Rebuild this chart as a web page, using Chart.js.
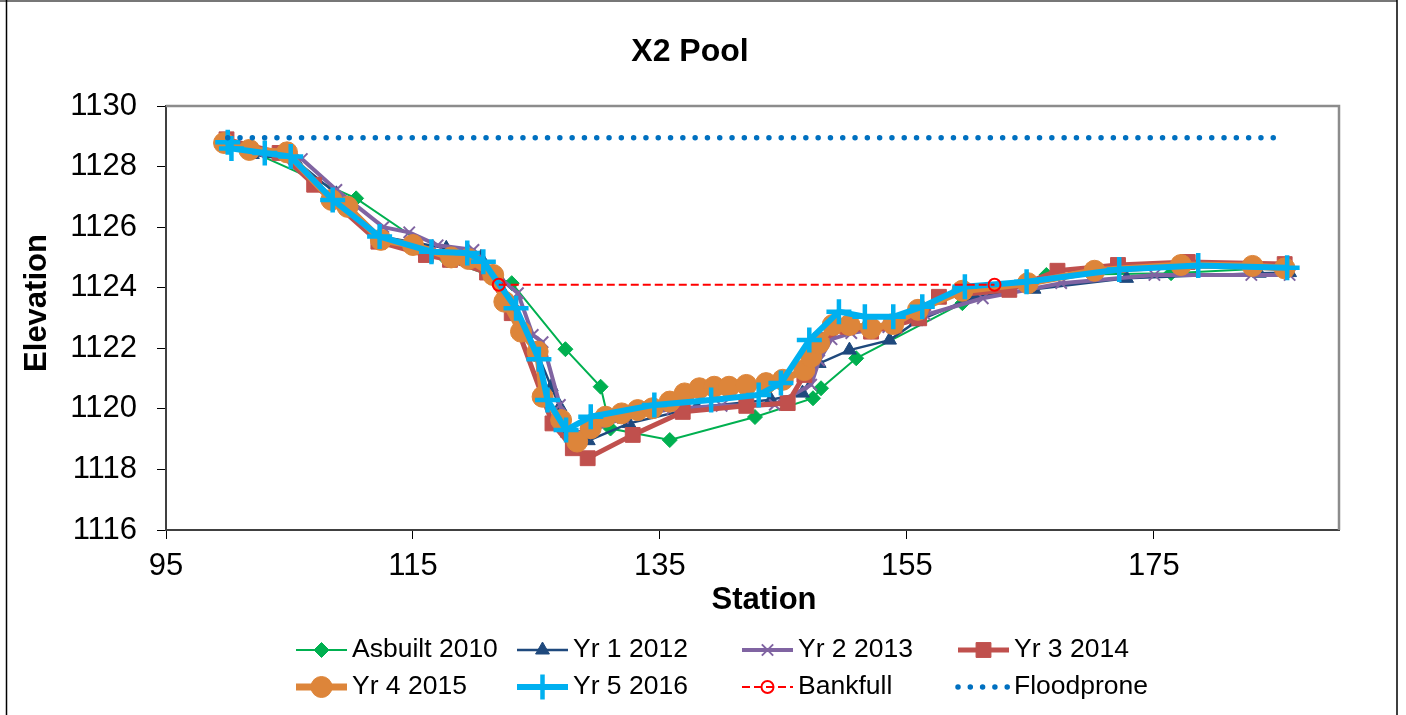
<!DOCTYPE html>
<html>
<head>
<meta charset="utf-8">
<title>X2 Pool</title>
<script src="https://cdn.jsdelivr.net/npm/chart.js@4.4.1/dist/chart.umd.min.js"></script>
<style>
  html, body { margin: 0; padding: 0; background: #fff; }
  #wrap { position: relative; width: 1406px; height: 715px; }
</style>
</head>
<body>
<div id="wrap"><canvas id="chart" width="1406" height="715"></canvas></div>
<script>
// axis ticks
const xTicks = [95, 115, 135, 155, 175];
const yTicks = [1116, 1118, 1120, 1122, 1124, 1126, 1128, 1130];

// station / elevation
const asbuiltX = [100.0, 110.4, 117.8, 123.0, 127.35, 130.2, 131.0, 135.8, 142.7, 147.4, 148.05, 150.9, 159.5, 166.3, 176.4, 185.6];
const asbuiltY = [1128.85, 1126.95, 1124.9, 1124.15, 1121.97, 1120.73, 1119.35, 1118.97, 1119.73, 1120.35, 1120.68, 1121.67, 1123.49, 1124.42, 1124.48, 1124.67];

const yr1X = [100.0, 102.0, 105.5, 108.8, 112.3, 117.7, 120.5, 122.0, 124.4, 126.2, 126.9, 127.5, 129.2, 132.5, 138.0, 144.0, 146.55, 147.9, 150.35, 153.6, 155.75, 160.5, 165.3, 172.8, 183.55, 186.0];
const yr1Y = [1128.7, 1128.4, 1128.2, 1127.1, 1125.7, 1125.3, 1125.0, 1124.3, 1122.5, 1120.73, 1120.07, 1119.2, 1118.95, 1119.52, 1120.05, 1120.3, 1120.52, 1121.5, 1121.94, 1122.27, 1122.88, 1123.7, 1123.95, 1124.31, 1124.48, 1124.5];

const yr2X = [100.0, 102.5, 106.0, 108.8, 112.6, 114.7, 117.0, 119.9, 121.8, 123.5, 124.7, 125.5, 126.9, 127.6, 129.0, 132.0, 136.0, 140.0, 144.3, 147.25, 147.9, 148.9, 150.5, 153.5, 156.5, 161.15, 167.5, 175.05, 182.9, 186.0];
const yr2Y = [1128.75, 1128.45, 1128.25, 1127.23, 1126.0, 1125.83, 1125.4, 1125.25, 1124.4, 1123.82, 1122.44, 1122.2, 1120.13, 1119.3, 1119.2, 1119.7, 1120.0, 1120.1, 1120.13, 1120.8, 1121.6, 1122.3, 1122.5, 1122.7, 1123.1, 1123.65, 1124.15, 1124.42, 1124.42, 1124.42];

const yr3X = [99.9, 104.2, 107.0, 112.2, 116.05, 118.0, 121.0, 123.0, 126.3, 127.95, 129.15, 132.8, 136.85, 142.0, 145.35, 146.7, 148.05, 150.2, 152.1, 154.0, 156.0, 157.6, 163.3, 167.2, 172.1, 177.75, 185.6];
const yr3Y = [1128.9, 1128.45, 1127.4, 1125.52, 1125.08, 1124.92, 1124.5, 1123.16, 1119.52, 1118.7, 1118.37, 1119.14, 1119.9, 1120.1, 1120.19, 1121.12, 1122.27, 1122.71, 1122.55, 1122.75, 1122.99, 1123.7, 1123.93, 1124.56, 1124.75, 1124.85, 1124.78];

const yr4X = [99.7, 101.75, 104.8, 108.4, 109.7, 112.4, 115.0, 118.1, 119.5, 121.5, 122.4, 123.75, 125.1, 125.5, 127.0, 128.3, 129.4, 130.6, 131.9, 133.2, 134.4, 135.8, 137.0, 138.2, 139.4, 140.6, 142.0, 143.6, 144.95, 146.7, 147.25, 147.9, 149.0, 150.35, 152.1, 153.9, 155.9, 159.5, 164.8, 170.2, 177.2, 183.0, 185.6];
const yr4Y = [1128.78, 1128.55, 1128.47, 1126.9, 1126.67, 1125.58, 1125.41, 1125.0, 1124.95, 1124.42, 1123.54, 1122.55, 1121.89, 1120.4, 1119.63, 1118.92, 1119.36, 1119.74, 1119.85, 1119.96, 1120.02, 1120.24, 1120.51, 1120.68, 1120.73, 1120.73, 1120.79, 1120.85, 1120.96, 1121.28, 1121.72, 1122.17, 1122.77, 1122.77, 1122.66, 1122.8, 1123.27, 1123.9, 1124.15, 1124.56, 1124.75, 1124.72, 1124.64];

const yr5X = [100.0, 100.3, 103.0, 105.1, 108.5, 112.3, 116.5, 119.4, 120.7, 123.35, 125.2, 125.9, 127.4, 129.4, 134.55, 139.15, 143.0, 144.8, 147.1, 149.5, 151.6, 153.9, 156.25, 159.7, 164.7, 172.2, 178.6, 185.8];
const yr5Y = [1128.8, 1128.6, 1128.45, 1128.33, 1126.9, 1125.69, 1125.19, 1125.15, 1124.86, 1123.32, 1121.64, 1120.29, 1119.3, 1119.74, 1120.13, 1120.29, 1120.46, 1120.85, 1122.27, 1123.21, 1123.04, 1123.04, 1123.37, 1124.03, 1124.2, 1124.6, 1124.73, 1124.66];

const bankfullX = [121.95, 162.1];
const bankfullY = [1124.1, 1124.1];

const floodproneX = [100.0, 185.6];
const floodproneY = [1128.95, 1128.95];

const FONT = '"Liberation Sans", Arial, sans-serif';

function pts(xs, ys) {
  return xs.map((x, i) => ({ x: x, y: ys[i] }));
}

// datasets in legend order; "order" sets what is drawn on top (0 = top)
const datasets = [
  { label: 'Asbuilt 2010', data: pts(asbuiltX, asbuiltY), borderColor: '#00B050', borderWidth: 2,
    pointStyle: 'rectRot', pointRadius: 7.5, pointBackgroundColor: '#00B050', pointBorderColor: '#00B050', pointBorderWidth: 1, order: 7 },
  { label: 'Yr 1 2012', data: pts(yr1X, yr1Y), borderColor: '#1F497D', borderWidth: 2.5,
    pointStyle: 'triangle', pointRadius: 8, pointBackgroundColor: '#1F497D', pointBorderColor: '#1F497D', pointBorderWidth: 1, order: 6 },
  { label: 'Yr 2 2013', data: pts(yr2X, yr2Y), borderColor: '#8064A2', borderWidth: 4,
    pointStyle: 'crossRot', pointRadius: 8, pointBackgroundColor: '#8064A2', pointBorderColor: '#8064A2', pointBorderWidth: 2, order: 5 },
  { label: 'Yr 3 2014', data: pts(yr3X, yr3Y), borderColor: '#C0504D', borderWidth: 5,
    pointStyle: 'rect', pointRadius: 10.5, pointBackgroundColor: '#C0504D', pointBorderColor: '#C0504D', pointBorderWidth: 1, order: 4 },
  { label: 'Yr 4 2015', data: pts(yr4X, yr4Y), borderColor: '#DD853A', borderWidth: 7,
    pointStyle: 'circle', pointRadius: 10.5, pointBackgroundColor: '#DD853A', pointBorderColor: '#DD853A', pointBorderWidth: 1, order: 3 },
  { label: 'Yr 5 2016', data: pts(yr5X, yr5Y), borderColor: '#00B0F0', borderWidth: 6,
    pointStyle: 'cross', pointRadius: 12.5, pointBackgroundColor: '#00B0F0', pointBorderColor: '#00B0F0', pointBorderWidth: 4.5, order: 2 },
  { label: 'Bankfull', data: pts(bankfullX, bankfullY), borderColor: '#FF0000', borderWidth: 2, borderDash: [8, 4],
    pointStyle: 'circle', pointRadius: 6, pointBackgroundColor: 'rgba(255,255,255,0)', pointBorderColor: '#FF0000', pointBorderWidth: 2, order: 1 },
  { label: 'Floodprone', data: pts(floodproneX, floodproneY), borderColor: '#0070C0', borderWidth: 5.5, borderDash: [0, 12.3],
    borderCapStyle: 'round', pointRadius: 0, pointBorderWidth: 0, order: 0 }
];
datasets.forEach(d => { d.showLine = true; d.tension = 0; d.fill = false; });

// marker used in the legend samples (same shapes Chart.js draws)
function drawMarker(ctx, ds, x, y) {
  const r = ds.pointRadius;
  if (!r) return;
  ctx.save();
  ctx.setLineDash([]);
  ctx.lineWidth = ds.pointBorderWidth;
  ctx.strokeStyle = ds.pointBorderColor;
  ctx.fillStyle = ds.pointBackgroundColor;
  ctx.beginPath();
  let fill = true;
  if (ds.pointStyle === 'circle') {
    ctx.arc(x, y, r, 0, Math.PI * 2);
  } else if (ds.pointStyle === 'rect') {
    const s = r * Math.SQRT1_2;
    ctx.rect(x - s, y - s, 2 * s, 2 * s);
  } else if (ds.pointStyle === 'rectRot') {
    ctx.moveTo(x, y - r); ctx.lineTo(x + r, y); ctx.lineTo(x, y + r); ctx.lineTo(x - r, y); ctx.closePath();
  } else if (ds.pointStyle === 'triangle') {
    const a = Math.sin(Math.PI * 2 / 3) * r;
    ctx.moveTo(x, y - r); ctx.lineTo(x + a, y + r / 2); ctx.lineTo(x - a, y + r / 2); ctx.closePath();
  } else if (ds.pointStyle === 'cross') {
    ctx.moveTo(x - r, y); ctx.lineTo(x + r, y); ctx.moveTo(x, y - r); ctx.lineTo(x, y + r);
    fill = false;
  } else if (ds.pointStyle === 'crossRot') {
    const s = r * Math.SQRT1_2;
    ctx.moveTo(x - s, y - s); ctx.lineTo(x + s, y + s); ctx.moveTo(x + s, y - s); ctx.lineTo(x - s, y + s);
    fill = false;
  }
  if (fill) ctx.fill();
  if (ds.pointBorderWidth > 0) ctx.stroke();
  ctx.restore();
}

// legend laid out as a 4 x 2 grid under the axis, like the original
const legendCols = [296, 517, 742, 958];
const legendRows = [650, 687];

const gridLegend = {
  id: 'gridLegend',
  afterDraw(chart) {
    const ctx = chart.ctx;
    chart.data.datasets.forEach((ds, i) => {
      const x = legendCols[i % 4];
      const y = legendRows[Math.floor(i / 4)];
      ctx.save();
      ctx.strokeStyle = ds.borderColor;
      ctx.lineWidth = ds.borderWidth;
      ctx.lineCap = ds.borderCapStyle || 'butt';
      ctx.setLineDash(ds.borderDash || []);
      ctx.beginPath();
      ctx.moveTo(x, y);
      ctx.lineTo(x + 51, y);
      ctx.stroke();
      ctx.restore();
      drawMarker(ctx, ds, x + 25.5, y);
      ctx.save();
      ctx.fillStyle = '#000';
      ctx.font = '26.5px ' + FONT;
      ctx.textBaseline = 'middle';
      ctx.fillText(ds.label, x + 56, y);
      ctx.restore();
    });
  }
};

// chart title and axis titles, placed where the original has them
const titles = {
  id: 'titles',
  afterDraw(chart) {
    const ctx = chart.ctx;
    ctx.save();
    ctx.fillStyle = '#000';
    ctx.textAlign = 'center';
    ctx.textBaseline = 'middle';
    ctx.font = 'bold 32px ' + FONT;
    ctx.fillText('X2 Pool', 690, 52);
    ctx.font = 'bold 31px ' + FONT;
    ctx.fillText('Station', 764, 600);
    ctx.translate(37, 303);
    ctx.rotate(-Math.PI / 2);
    ctx.fillText('Elevation', 0, 0);
    ctx.restore();
  }
};

// plot-area frame (top/right) and the outer chart border
const frames = {
  id: 'frames',
  beforeDatasetsDraw(chart) {
    const a = chart.chartArea;
    const ctx = chart.ctx;
    ctx.save();
    ctx.strokeStyle = '#8c8c8c';
    ctx.lineWidth = 2.5;
    ctx.beginPath();
    ctx.moveTo(a.left, a.top);
    ctx.lineTo(a.right, a.top);
    ctx.lineTo(a.right, a.bottom);
    ctx.stroke();
    ctx.restore();
  },
  afterDraw(chart) {
    const ctx = chart.ctx;
    ctx.save();
    ctx.strokeStyle = '#777';
    ctx.lineWidth = 2;
    ctx.beginPath();
    ctx.moveTo(0, 1);
    ctx.lineTo(1397, 1);
    ctx.stroke();
    ctx.strokeStyle = '#000';
    ctx.lineWidth = 1.5;
    ctx.beginPath();
    ctx.moveTo(6.5, 0);
    ctx.lineTo(6.5, 715);
    ctx.moveTo(1397, 0);
    ctx.lineTo(1397, 715);
    ctx.stroke();
    ctx.restore();
  }
};

new Chart(document.getElementById('chart').getContext('2d'), {
  type: 'line',
  data: { datasets: datasets },
  options: {
    responsive: false,
    animation: false,
    events: [],
    layout: { padding: { left: 8, right: 67, top: 106, bottom: 95 } },
    plugins: {
      legend: { display: false },
      tooltip: { enabled: false },
      title: { display: false }
    },
    scales: {
      x: {
        type: 'linear',
        min: 95,
        max: 190,
        afterBuildTicks: s => { s.ticks = xTicks.map(v => ({ value: v })); },
        afterFit: s => { s.height = 90; },
        ticks: { color: '#000', font: { family: FONT, size: 31 }, padding: 9, maxRotation: 0, autoSkip: false, callback: v => String(v) },
        grid: { display: true, drawOnChartArea: false, drawTicks: true, tickLength: 9, color: '#000' },
        border: { display: true, color: '#404040', width: 2 },
        title: { display: false }
      },
      y: {
        type: 'linear',
        min: 1116,
        max: 1130,
        afterBuildTicks: s => { s.ticks = yTicks.map(v => ({ value: v })); },
        afterFit: s => { s.width = 158; },
        ticks: { color: '#000', font: { family: FONT, size: 31 }, padding: 20, autoSkip: false, callback: v => String(v) },
        grid: { display: true, drawOnChartArea: false, drawTicks: true, tickLength: 9, color: '#000' },
        border: { display: true, color: '#404040', width: 2 },
        title: { display: false }
      }
    }
  },
  plugins: [frames, titles, gridLegend]
});
</script>
</body>
</html>
